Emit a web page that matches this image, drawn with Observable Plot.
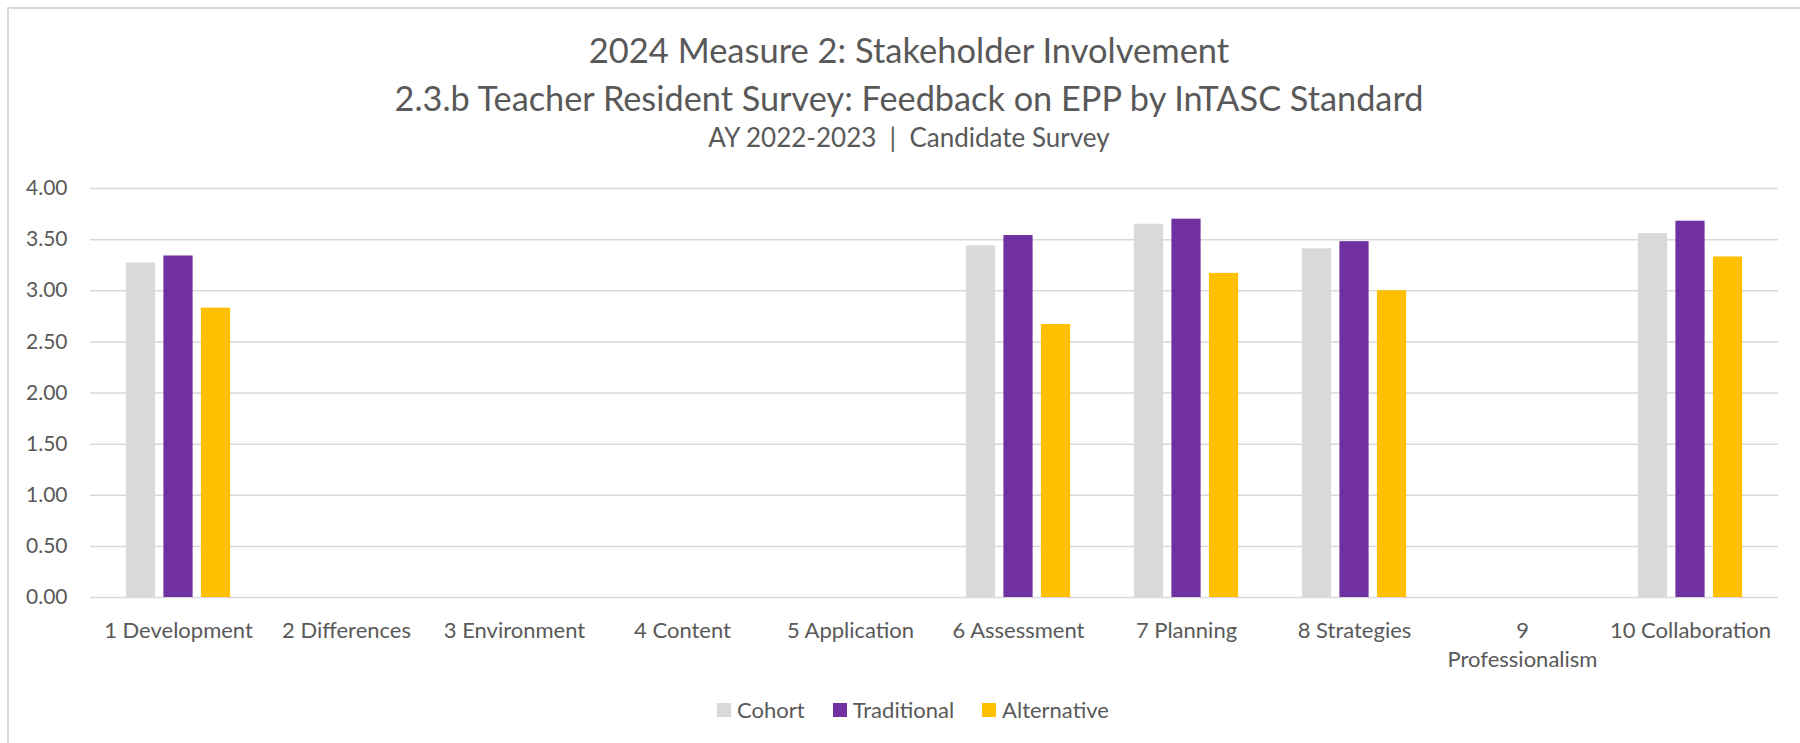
<!DOCTYPE html>
<html>
<head>
<meta charset="utf-8">
<script src="https://cdn.jsdelivr.net/npm/d3@7"></script>
<script src="https://cdn.jsdelivr.net/npm/@observablehq/plot@0.6"></script>
<style>
  html, body { margin: 0; padding: 0; background: #fff; }
  body { width: 1800px; height: 743px; overflow: hidden; position: relative; font-family: Lato, "Open Sans", sans-serif; color: #595959; }
  #frame { position: absolute; left: 7px; top: 7px; width: 1800px; height: 750px; border-left: 2px solid #d9d9d9; border-top: 2px solid #d9d9d9; box-sizing: border-box; }
  .t { position: absolute; left: 0; width: 1818px; text-align: center; white-space: pre; }
  #t1 { top: 29px; font-size: 34.5px; }
  #t2 { top: 77px; font-size: 34.3px; }
  #t3 { top: 121px; font-size: 26px; }
  #chart { position: absolute; left: 0; top: 160px; }
  #legend { position: absolute; left: 0; top: 696px; width: 1826px; display: flex; justify-content: center; font-size: 22px; }
  .item { display: flex; align-items: center; margin: 0 14px; }
  .sw { width: 14px; height: 14px; margin-right: 6px; }
</style>
</head>
<body>
<div id="frame"></div>
<div class="t" id="t1"></div>
<div class="t" id="t2"></div>
<div class="t" id="t3"></div>
<div id="chart"></div>
<div id="legend"></div>
<script>
const titleLines = [
  "2024 Measure 2: Stakeholder Involvement",
  "2.3.b Teacher Resident Survey: Feedback on EPP by InTASC Standard",
  "AY 2022-2023  |  Candidate Survey"
];
const categories = ["1 Development", "2 Differences", "3 Environment", "4 Content", "5 Application",
  "6 Assessment", "7 Planning", "8 Strategies", "9 Professionalism", "10 Collaboration"];
const tickLabels = ["1 Development", "2 Differences", "3 Environment", "4 Content", "5 Application",
  "6 Assessment", "7 Planning", "8 Strategies", "9\nProfessionalism", "10 Collaboration"];
const seriesNames = ["Cohort", "Traditional", "Alternative"];
const seriesColors = ["#d9d9d9", "#7030a0", "#ffc000"];
const cohort      = [3.27, null, null, null, null, 3.44, 3.65, 3.41, null, 3.56];
const traditional = [3.34, null, null, null, null, 3.54, 3.70, 3.48, null, 3.68];
const alternative = [2.83, null, null, null, null, 2.67, 3.17, 3.00, null, 3.33];
const yTicks = [0, 0.5, 1, 1.5, 2, 2.5, 3, 3.5, 4];

document.getElementById("t1").textContent = titleLines[0];
document.getElementById("t2").textContent = titleLines[1];
document.getElementById("t3").textContent = titleLines[2];

const seriesValues = [cohort, traditional, alternative];
const W = 1800, mL = 90, mR = 22;
const step = (W - mL - mR) / categories.length;
const barW = 30, pitch = 37.5;
const inset = (step - barW) / 2;

const marks = [
  Plot.gridY(yTicks, {stroke: "#d9d9d9", strokeOpacity: 1, strokeWidth: 1.5})
];
seriesValues.forEach((vals, si) => {
  const rows = categories.map((c, i) => ({cat: c, v: vals[i]})).filter(d => d.v != null);
  marks.push(Plot.barY(rows, {
    x: "cat", y: "v", fill: seriesColors[si],
    insetLeft: inset, insetRight: inset,
    dx: (si - 1) * pitch
  }));
});
marks.push(Plot.axisY({ticks: yTicks, tickFormat: d => d.toFixed(2), tickSize: 0, tickPadding: 23,
  fontSize: 21, fill: "#595959", label: null}));
marks.push(Plot.axisX({tickSize: 0, tickPadding: 20, fontSize: 22, fill: "#595959", label: null,
  lineHeight: 1.32, tickFormat: d => tickLabels[categories.indexOf(d)]}));

const chart = Plot.plot({
  width: W, height: 520,
  marginLeft: mL, marginRight: mR, marginTop: 28, marginBottom: 83,
  style: {fontFamily: "Lato, 'Open Sans', sans-serif", fontSize: "21px", color: "#595959", background: "transparent"},
  x: {type: "band", domain: categories, padding: 0},
  y: {domain: [0, 4]},
  marks
});
document.getElementById("chart").appendChild(chart);

const legend = document.getElementById("legend");
seriesNames.forEach((n, i) => {
  const it = document.createElement("div");
  it.className = "item";
  const sw = document.createElement("div");
  sw.className = "sw";
  sw.style.background = seriesColors[i];
  const tx = document.createElement("span");
  tx.textContent = n;
  it.appendChild(sw); it.appendChild(tx);
  legend.appendChild(it);
});
</script>
</body>
</html>
